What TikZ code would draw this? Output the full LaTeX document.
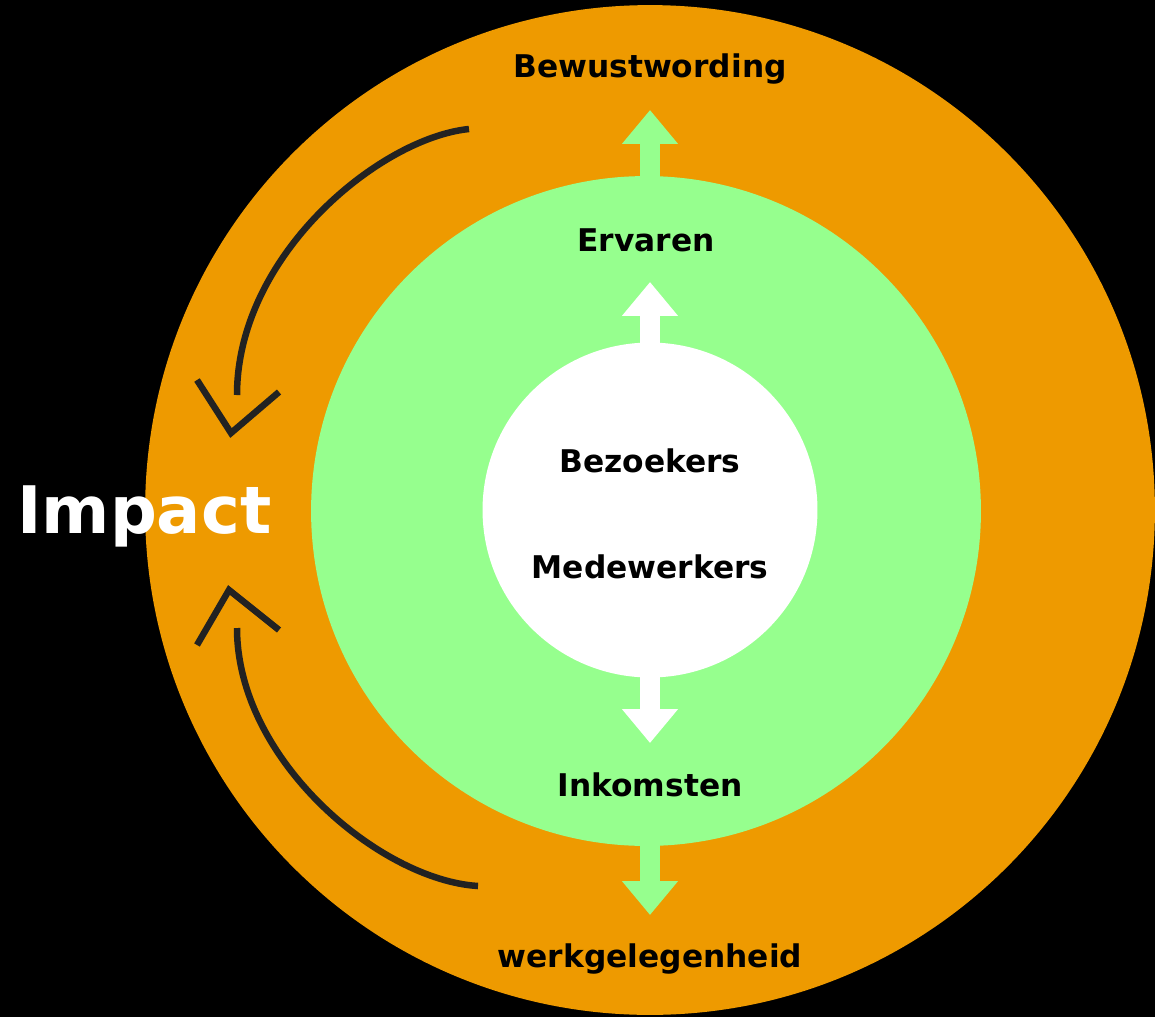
\documentclass[tikz,border=0pt]{standalone}
\usepackage{fontspec}
\setmainfont{DejaVu Sans}
\usetikzlibrary{arrows.meta}
\definecolor{orng}{HTML}{EE9A00}
\definecolor{lgreen}{HTML}{96FF8E}
\definecolor{curvecol}{HTML}{222222}
\begin{document}
\begin{tikzpicture}[x=0.02cm,y=-0.02cm,
  lbl/.style={font=\fontsize{17.8}{20}\selectfont\bfseries, text=black, inner sep=0pt, anchor=base},
  bigarrow/.style={line width=0.4cm, -{Triangle[length=0.68cm,width=1.08cm]}},
  cycle/.style={curvecol, line width=0.13cm},
  tipv/.style={curvecol, line width=0.13cm, line join=miter}]
\fill[black] (0,0) rectangle (1155,1017);
\useasboundingbox (0,0) rectangle (1155,1017);
\begin{scope}
\clip (0,0) rectangle (1155,1017);
\node[circle, fill=orng, minimum size=20.2cm, inner sep=0pt] (outer) at (650,510) {};
\end{scope}
\node[circle, fill=lgreen, minimum size=13.4cm, inner sep=0pt] (mid) at (646,511) {};
% arrows
\draw[bigarrow, lgreen] (650,190) -- (650,110);
\draw[bigarrow, lgreen] (650,840) -- (650,915);
\node[circle, fill=white, minimum size=6.7cm, inner sep=0pt] (inner) at (650,510) {};
\draw[bigarrow, white] (650,350) -- (650,282);
\draw[bigarrow, white] (650,670) -- (650,743);
% labels
\node[lbl] (bew) at (650,78) {Bewustwording};
\node[lbl] (erv) at (646,251) {Ervaren};
\node[lbl] (bez) at (650,472) {Bezoekers};
\node[lbl] (med) at (650,578) {Medewerkers};
\node[lbl] (ink) at (650,796) {Inkomsten};
\node[lbl] (werk) at (650,967) {werkgelegenheid};
\node[font=\fontsize{37.3}{40}\selectfont\bfseries, text=white, inner sep=0pt, anchor=base west] (impact) at (17,533) {Impact};
% cycle curves
\coordinate (c1s) at (469,129);
\coordinate (c1e) at (237,395);
\coordinate (c2s) at (237,628);
\coordinate (c2e) at (478,886);
\draw[cycle] (c1s) .. controls (380,138) and (237,255) .. (c1e);
\draw[tipv] (197,380) -- (231,433) -- (279,392);
\draw[cycle] (c2s) .. controls (237,760) and (380,880) .. (c2e);
\draw[tipv] (197,645) -- (229,590) -- (279,630);
\end{tikzpicture}
\end{document}
